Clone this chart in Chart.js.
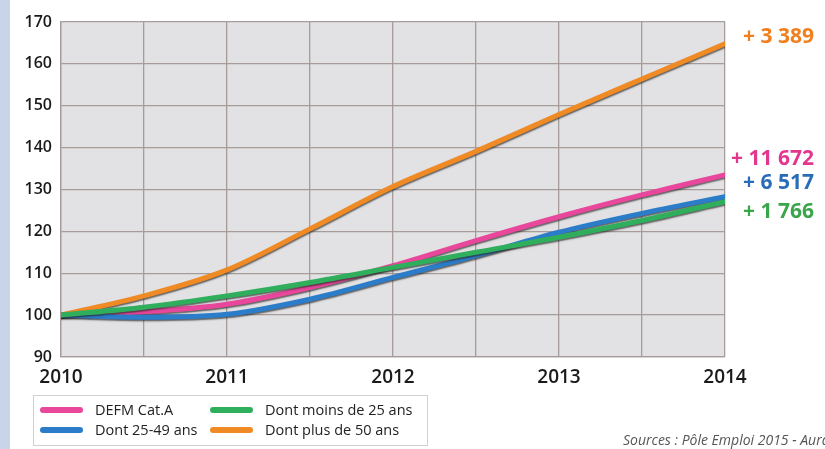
<!DOCTYPE html>
<html>
<head>
<meta charset="utf-8">
<script src="https://cdn.jsdelivr.net/npm/chart.js@4.4.1/dist/chart.umd.min.js"></script>
<style>
  html, body { margin: 0; padding: 0; background: #fff; overflow: hidden; }
  #wrap { position: relative; width: 825px; height: 449px; }
  #strip { position: absolute; left: 0; top: 0; width: 10px; height: 449px; background: #c8d5e8; }
  #chart { position: absolute; left: 0; top: 0; }
  #legend { position: absolute; left: 33px; top: 395px; width: 395px; height: 51px;
            border: 1px solid #d4d0cc; box-sizing: border-box; font-family: "Open Sans", sans-serif;
            font-size: 14.5px; color: #222; }
  .item { position: absolute; display: flex; align-items: center; }
  .sw { width: 43px; height: 6px; border-radius: 3px; margin-right: 12px; }
  #source { position: absolute; left: 623px; top: 430px; white-space: nowrap;
            font-family: "Liberation Sans Narrow", "Open Sans", sans-serif; font-style: italic;
            font-size: 14px; color: #555; }
</style>
</head>
<body>
<div id="wrap">
  <div id="strip"></div>
  <canvas id="chart" width="825" height="449"></canvas>
  <div id="legend"></div>
  <div id="source">Sources : Pôle Emploi 2015 - Auran</div>
</div>
<script>
const years = [2010, 2010.5, 2011, 2011.5, 2012, 2012.5, 2013, 2013.5, 2014];
const defmCatA = [100, 100.8, 102.6, 106.6, 111.8, 117.8, 123.5, 128.7, 133.5];
const moins25 = [100, 101.9, 104.6, 107.8, 111.4, 115.0, 118.6, 122.6, 127.1];
const age25a49 = [100, 99.5, 100.2, 103.8, 109.0, 114.2, 119.8, 124.3, 128.3];
const plus50 = [100, 104.6, 110.8, 120.6, 130.7, 139.1, 147.9, 156.4, 164.8];
const seriesNames = ["DEFM Cat.A", "Dont moins de 25 ans", "Dont 25-49 ans", "Dont plus de 50 ans"];
const seriesColors = ["#e8479b", "#2fae5c", "#2b7cc9", "#f08a24"];
const endLabels = ["+ 11 672", "+ 1 766", "+ 6 517", "+ 3 389"];
const endLabelColors = ["#e2368f", "#3aa54a", "#2a6db6", "#f07f1e"];
const endLabelOffsets = [-16, 10, -14, -7];
const yTicks = [90, 170, 10];

const allSeries = [defmCatA, moins25, age25a49, plus50];

const datasets = allSeries.map(function (vals, i) {
  return {
    label: seriesNames[i],
    data: vals.map(function (v, j) { return { x: years[j], y: v }; }),
    borderColor: seriesColors[i],
    borderWidth: 5,
    pointRadius: 0,
    fill: false,
    cubicInterpolationMode: "monotone",
    borderCapStyle: "round"
  };
});
// draw order: orange back, then pink, blue, green on top
datasets[0].order = 2;
datasets[1].order = 0;
datasets[2].order = 1;
datasets[3].order = 3;

const plotBg = {
  id: "plotBg",
  beforeDraw(chart) {
    const a = chart.chartArea;
    const ctx = chart.ctx;
    ctx.save();
    ctx.fillStyle = "#e2e2e4";
    ctx.fillRect(a.left, a.top, a.right - a.left, a.bottom - a.top);
    ctx.restore();
  }
};

const lineShadow = {
  id: "lineShadow",
  beforeDatasetDraw(chart) {
    const ctx = chart.ctx;
    ctx.save();
    ctx.shadowColor = "rgba(40,40,40,0.7)";
    ctx.shadowBlur = 1.5;
    ctx.shadowOffsetY = 1.5;
    ctx.shadowOffsetX = 0.5;
  },
  afterDatasetDraw(chart) {
    chart.ctx.restore();
  }
};

const endText = {
  id: "endText",
  afterDraw(chart) {
    const ctx = chart.ctx;
    const ys = chart.scales.y;
    ctx.save();
    ctx.font = "bold 21px 'Open Sans', sans-serif";
    ctx.textAlign = "right";
    ctx.textBaseline = "middle";
    allSeries.forEach(function (vals, i) {
      const last = vals[vals.length - 1];
      ctx.fillStyle = endLabelColors[i];
      ctx.fillText(endLabels[i], 814, ys.getPixelForValue(last) + endLabelOffsets[i]);
    });
    ctx.restore();
  }
};

new Chart(document.getElementById("chart").getContext("2d"), {
  type: "line",
  data: { datasets: datasets },
  plugins: [plotBg, lineShadow, endText],
  options: {
    responsive: false,
    animation: false,
    layout: { padding: { left: 0, right: 100, top: 22, bottom: 0 } },
    plugins: { legend: { display: false }, tooltip: { enabled: false } },
    scales: {
      x: {
        type: "linear",
        min: years[0],
        max: years[years.length - 1],
        afterFit(s) { s.height = 92; },
        grid: { color: "#a69c99", lineWidth: 1.3, drawTicks: false },
        border: { color: "#a69c99", width: 1.3 },
        ticks: {
          stepSize: 0.5,
          autoSkip: false,
          padding: 9,
          color: "#1a1a1a",
          font: { family: "'Open Sans', sans-serif", size: 19, weight: "600" },
          callback: function (v) { return v % 1 === 0 ? String(v) : ""; }
        }
      },
      y: {
        min: yTicks[0],
        max: yTicks[1],
        afterFit(s) { s.width = 61; },
        grid: { color: "#a69c99", lineWidth: 1.3, drawTicks: false },
        border: { color: "#a69c99", width: 1.3 },
        ticks: {
          stepSize: yTicks[2],
          padding: 9,
          color: "#1a1a1a",
          font: { family: "'Open Sans', sans-serif", size: 16, weight: "600" }
        }
      }
    }
  }
});

// legend: two columns, rows as in the printed chart
const legendPos = [[0, 0], [1, 0], [0, 1], [1, 1]];
const legend = document.getElementById("legend");
seriesNames.forEach(function (name, i) {
  const it = document.createElement("div");
  it.className = "item";
  it.style.left = (legendPos[i][0] ? 176 : 6) + "px";
  it.style.top = (legendPos[i][1] ? 24 : 4) + "px";
  const sw = document.createElement("div");
  sw.className = "sw";
  sw.style.background = seriesColors[i];
  const tx = document.createElement("span");
  tx.textContent = name;
  it.appendChild(sw);
  it.appendChild(tx);
  legend.appendChild(it);
});
</script>
</body>
</html>
